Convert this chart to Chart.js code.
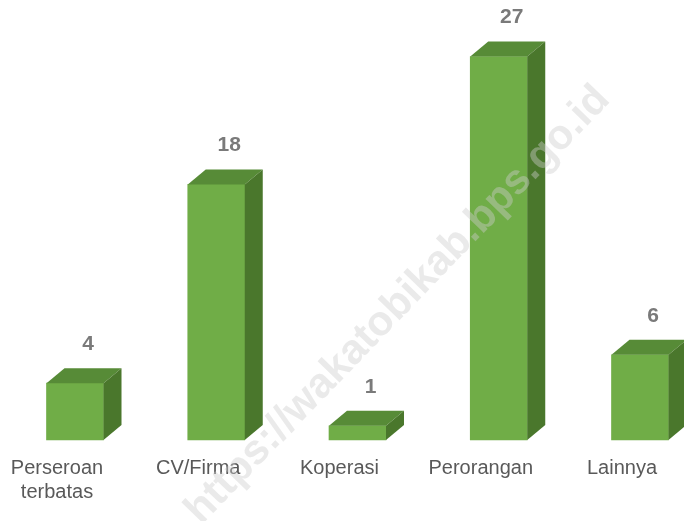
<!DOCTYPE html>
<html><head><meta charset="utf-8">
<script src="https://cdn.jsdelivr.net/npm/chart.js@4.4.1/dist/chart.umd.min.js"></script>
<style>html,body{margin:0;padding:0;background:#fff}#wrap{width:684px;height:521px;position:relative}</style>
</head><body><div id="wrap"><canvas id="c"></canvas></div>
<script>
const categories = [["Perseroan","terbatas"], "CV/Firma", "Koperasi", "Perorangan", "Lainnya"];
const values = [4, 18, 1, 27, 6];
const watermarkText = "https://wakatobikab.bps.go.id";

const FONT = '"Liberation Sans", Arial, sans-serif';

const bar3d = {
  id: 'bar3d',
  afterDatasetsDraw(chart) {
    const ctx = chart.ctx;
    const meta = chart.getDatasetMeta(0);
    const data = chart.data.datasets[0].data;
    const dx = 18, dy = 15;
    meta.data.forEach((el, i) => {
      const p = el.getProps(['x', 'y', 'base', 'width'], true);
      const l = p.x - p.width / 2, r = p.x + p.width / 2, y = p.y, b = p.base;
      ctx.save();
      ctx.fillStyle = '#578b37';
      ctx.beginPath();
      ctx.moveTo(l, y); ctx.lineTo(l + dx, y - dy); ctx.lineTo(r + dx, y - dy); ctx.lineTo(r, y);
      ctx.closePath(); ctx.fill();
      ctx.fillStyle = '#4a772c';
      ctx.beginPath();
      ctx.moveTo(r, y); ctx.lineTo(r + dx, y - dy); ctx.lineTo(r + dx, b - dy); ctx.lineTo(r, b);
      ctx.closePath(); ctx.fill();
      ctx.fillStyle = '#7a7a7a';
      ctx.font = 'bold 21px ' + FONT;
      ctx.textAlign = 'center';
      ctx.textBaseline = 'middle';
      ctx.fillText(String(data[i]), p.x + 13, y - dy - 24);
      ctx.restore();
    });
  },
  afterDraw(chart) {
    const ctx = chart.ctx;
    ctx.save();
    ctx.translate(398, 305);
    ctx.rotate(-46 * Math.PI / 180);
    ctx.font = 'bold 42px ' + FONT;
    ctx.textAlign = 'center';
    ctx.textBaseline = 'middle';
    ctx.fillStyle = 'rgba(205,205,205,0.42)';
    ctx.fillText(watermarkText, 0, 0);
    ctx.restore();
  }
};

new Chart(document.getElementById('c'), {
  type: 'bar',
  data: {
    labels: categories,
    datasets: [{
      data: values,
      backgroundColor: '#70ad47',
      borderWidth: 0,
      barThickness: 57,
      clip: false
    }]
  },
  options: {
    responsive: true,
    maintainAspectRatio: false,
    animation: false,
    events: [],
    layout: { padding: { left: 75, right: 44, top: 14, bottom: 9 } },
    plugins: { legend: { display: false }, tooltip: { enabled: false } },
    scales: {
      x: {
        offset: false,
        grid: { display: false },
        border: { display: false },
        ticks: {
          color: '#595959',
          font: { family: FONT, size: 20, lineHeight: 1.2 },
          padding: 8,
          labelOffset: -18,
          maxRotation: 0,
          autoSkip: false
        }
      },
      y: { display: false, min: 0, max: 30 }
    }
  },
  plugins: [bar3d]
});
</script>
</body></html>
